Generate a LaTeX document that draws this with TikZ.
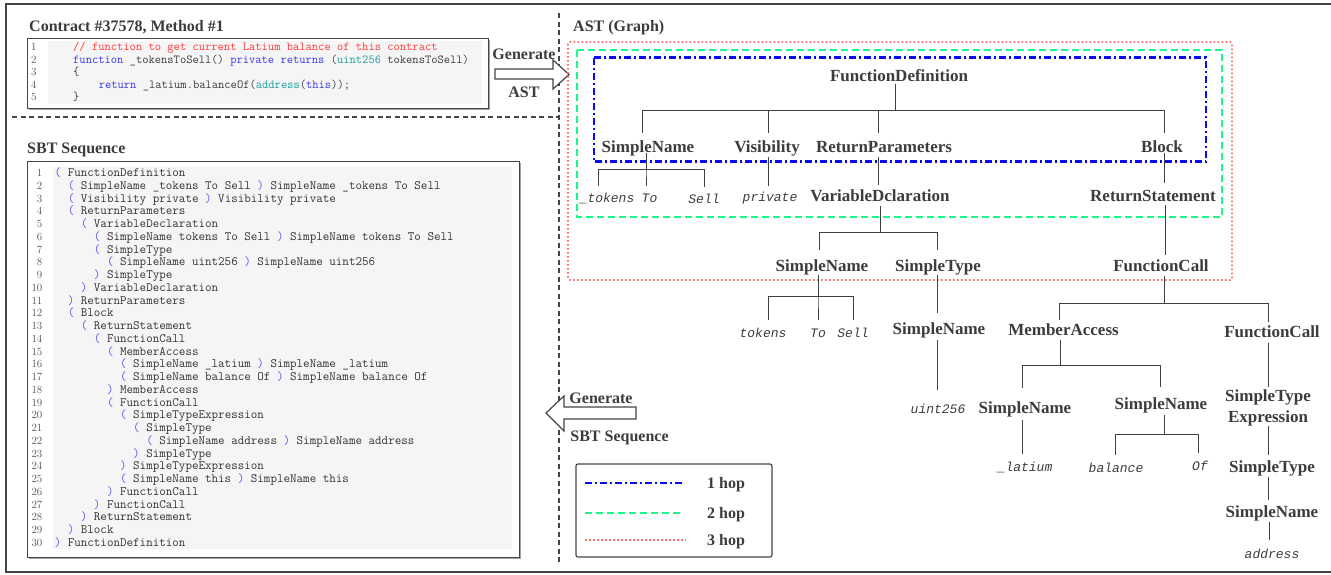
\documentclass[tikz,border=0pt]{standalone}
\usepackage{fontspec}
\newfontfamily\tms{Liberation Serif}
\newfontfamily\cour{Liberation Mono}
\usetikzlibrary{shadows}
\definecolor{txt}{HTML}{3C3C3C}
\definecolor{sbttxt}{HTML}{333333}
\definecolor{edgec}{HTML}{404040}
\definecolor{numc}{HTML}{505050}
\definecolor{cmred}{HTML}{FF3B3B}
\definecolor{kwblue}{HTML}{3A3AE8}
\definecolor{tealc}{HTML}{1E9E9E}
\definecolor{parblue}{HTML}{5050F0}
\definecolor{hopblue}{HTML}{0A0AF0}
\definecolor{hopgreen}{HTML}{1EF58A}
\definecolor{hopred}{HTML}{FF6A6A}
\definecolor{framec}{HTML}{454545}
\definecolor{codebg}{HTML}{F5F5F5}
\newcommand\indt[1]{\hspace*{#1\fontcharwd\font`\x}}
\newcommand\lp{\textcolor{parblue}{(}}
\newcommand\rp{\textcolor{parblue}{)}}
% tree edge with a horizontal bar: parent, parent xshift, shorten<, bar y, child, child xshift, shorten>
\newcommand\tedge[7]{%
  \coordinate (tmpP) at ([xshift=#2pt]#1.south);
  \coordinate (tmpC) at ([xshift=#6pt]#5.north);
  \coordinate (tmpB) at (0,#4);
  \draw[edge,shorten <=#3pt,shorten >=#7pt] (tmpP) -- (tmpP |- tmpB) -| (tmpC);}
% straight vertical edge: parent, parent xshift, shorten<, child, shorten>
\newcommand\vedge[5]{%
  \coordinate (tmpP) at ([xshift=#2pt]#1.south);
  \draw[edge,shorten <=#3pt,shorten >=#5pt] (tmpP) -- (tmpP |- #4.north);}
\begin{document}
\begin{tikzpicture}[x=1pt,y=-1pt,
  lab/.style={font=\tms\bfseries\fontsize{17}{20}\selectfont, text=txt, inner sep=0pt, text height=11.5pt, text depth=0pt},
  leaf/.style={font=\cour\itshape\fontsize{13}{15}\selectfont, text=txt, inner sep=0pt, text height=8pt, text depth=0pt},
  ttl/.style={font=\tms\bfseries\fontsize{16}{19}\selectfont, text=txt, inner sep=0pt, text height=11pt, text depth=0pt},
  edge/.style={draw=edgec, line width=1pt},
  codel/.style={anchor=base west, inner sep=0pt, font=\ttfamily\fontsize{12.2}{14}\selectfont, text=txt},
  sbtl/.style={anchor=base west, inner sep=0pt, font=\ttfamily\fontsize{12.7}{14}\selectfont\addfontfeatures{FakeBold=0.3}, text=sbttxt},
  lnum/.style={inner sep=0pt, font=\fontsize{11}{13}\selectfont, text=numc},
  sep/.style={draw=framec, line width=1.2pt, dash pattern=on 5pt off 3.5pt},
  blockarrow/.style={draw=framec, line width=1.2pt, fill=white, line join=miter},
  hop1/.style={draw=hopblue, line width=2.6pt, dash pattern=on 7pt off 3pt on 2pt off 3pt},
  hop2/.style={draw=hopgreen, line width=2.6pt, dash pattern=on 7pt off 4pt},
  hop3/.style={draw=hopred, line width=1.8pt, dash pattern=on 1.6pt off 2.4pt},
  boxshadow/.style={drop shadow={shadow xshift=1.5pt,shadow yshift=-1.8pt,fill=black!60,opacity=0.6}}
]
\useasboundingbox (0,0) rectangle (1331,574);
% outer frame
\draw[framec, line width=1.3pt] (6,4) rectangle (1345,572);
% separators
\draw[sep] (12,117) -- (559,117);
\draw[sep] (559,13) -- (559,564);

% ---------- contract code ----------
\node[ttl, anchor=west] (ctitle) at (29,26) {Contract \#37578, Method \#1};
\node[draw=framec, line width=1pt, fill=white, boxshadow, inner sep=0pt, minimum width=461pt, minimum height=70pt, anchor=north west] (cbox) at (27,38) {};
\fill[codebg] (48,41) rectangle (482,104);
\foreach \i in {1,...,5} {\node[lnum, anchor=base west] (cn\i) at (31,{50.5+(\i-1)*12.5}) {\i};}
\node[codel] (c1) at (73,50.5) {\textcolor{cmred}{// function to get current Latium balance of this contract}};
\node[codel] (c2) at (73,63) {\textcolor{kwblue}{function} \_tokensToSell() \textcolor{kwblue}{private returns} (\textcolor{tealc}{uint256} tokensToSell)};
\node[codel] (c3) at (73,75.5) {\{};
\node[codel] (c4) at (98.6,88) {\textcolor{kwblue}{return} \_latium.balanceOf(\textcolor{tealc}{address}(\textcolor{kwblue}{this}));};
\node[codel] (c5) at (73,100.5) {\}};

% ---------- SBT sequence ----------
\node[ttl, anchor=west] (stitle) at (27,148) {SBT Sequence};
\node[draw=framec, line width=1pt, fill=white, boxshadow, inner sep=0pt, minimum width=492pt, minimum height=396pt, anchor=north west] (sbox) at (27,161) {};
\fill[codebg] (53,167) rectangle (512,549);
\foreach \k/\t [count=\i] in {
 0/{\lp{} FunctionDefinition},
 2/{\lp{} SimpleName \_tokens To Sell \rp{} SimpleName \_tokens To Sell},
 2/{\lp{} Visibility private \rp{} Visibility private},
 2/{\lp{} ReturnParameters},
 4/{\lp{} VariableDeclaration},
 6/{\lp{} SimpleName tokens To Sell \rp{} SimpleName tokens To Sell},
 6/{\lp{} SimpleType},
 8/{\lp{} SimpleName uint256 \rp{} SimpleName uint256},
 6/{\rp{} SimpleType},
 4/{\rp{} VariableDeclaration},
 2/{\rp{} ReturnParameters},
 2/{\lp{} Block},
 4/{\lp{} ReturnStatement},
 6/{\lp{} FunctionCall},
 8/{\lp{} MemberAccess},
 10/{\lp{} SimpleName \_latium \rp{} SimpleName \_latium},
 10/{\lp{} SimpleName balance Of \rp{} SimpleName balance Of},
 8/{\rp{} MemberAccess},
 8/{\lp{} FunctionCall},
 10/{\lp{} SimpleTypeExpression},
 12/{\lp{} SimpleType},
 14/{\lp{} SimpleName address \rp{} SimpleName address},
 12/{\rp{} SimpleType},
 10/{\rp{} SimpleTypeExpression},
 10/{\lp{} SimpleName this \rp{} SimpleName this},
 8/{\rp{} FunctionCall},
 6/{\rp{} FunctionCall},
 4/{\rp{} ReturnStatement},
 2/{\rp{} Block},
 0/{\rp{} FunctionDefinition}} {
  \node[lnum, anchor=base east] (sn\i) at (42.5,{176.5+(\i-1)*12.75}) {\i};
  \node[sbtl] (s\i) at (54.5,{176.5+(\i-1)*12.75}) {\indt{\k}\t};
}

% ---------- arrows ----------
\draw[blockarrow] (495,69) -- (553,69) -- (553,60) -- (569,74.5) -- (553,89) -- (553,79) -- (495,79) -- cycle;
\node[ttl] (gen1) at (524,54) {Generate};
\node[ttl] (ast1) at (524,92) {AST};
\draw[blockarrow] (546,413) -- (564,396) -- (564,407) -- (636,407) -- (636,419) -- (564,419) -- (564,431) -- cycle;
\node[ttl] (gen2) at (601,398) {Generate};
\node[ttl] (sbt2) at (619.5,436) {SBT Sequence};

% ---------- AST graph ----------
\node[ttl, anchor=west] (atitle) at (573,26) {AST (Graph)};
\draw[hop3, rounded corners=2pt] (568,42) rectangle (1232,280);
\draw[hop2] (577,50) rectangle (1222,217);
\draw[hop1] (594,57.5) rectangle (1206,161.5);

\node[lab] (fd) at (899,76) {FunctionDefinition};
\node[lab] (sn1) at (648,147) {SimpleName};
\node[lab] (vis) at (767,147) {Visibility};
\node[lab] (rp) at (884,147) {ReturnParameters};
\node[lab] (blk) at (1162,147) {Block};
\node[leaf] (tok1) at (607,198) {\_tokens};
\node[leaf] (to1) at (649.5,198) {To};
\node[leaf] (sell1) at (704,199) {Sell};
\node[leaf] (priv) at (770,197) {private};
\node[lab] (vd) at (880,196) {VariableDclaration};
\node[lab] (rs) at (1153,196) {ReturnStatement};
\node[lab] (sn2) at (822,266) {SimpleName};
\node[lab] (st1) at (938,266) {SimpleType};
\node[lab] (fc1) at (1161,266) {FunctionCall};
\node[leaf] (tok2) at (763,333) {tokens};
\node[leaf] (to2) at (818,333) {To};
\node[leaf] (sell2) at (853,333) {Sell};
\node[lab] (sn3) at (939,329) {SimpleName};
\node[lab] (ma) at (1063.5,330) {MemberAccess};
\node[lab] (fc2) at (1272,332) {FunctionCall};
\node[leaf] (u256) at (938,409) {uint256};
\node[lab] (sn4) at (1025,408) {SimpleName};
\node[lab] (sn5) at (1161,404) {SimpleName};
\node[font=\tms\bfseries\fontsize{17}{21}\selectfont, text=txt, inner sep=0pt, align=center] (ste) at (1268,408) {SimpleType\\Expression};
\node[leaf] (lat) at (1025,467) {\_latium};
\node[leaf] (bal) at (1116,468) {balance};
\node[leaf] (of) at (1200,466) {Of};
\node[lab] (st2) at (1272,467) {SimpleType};
\node[lab] (sn6) at (1272,512) {SimpleName};
\node[leaf] (addr) at (1272,554) {address};

% edges
\tedge{fd}{-4}{2}{110}{sn1}{-6}{8}
\tedge{fd}{-4}{2}{110}{vis}{1}{8}
\tedge{fd}{-4}{2}{110}{rp}{-6}{8}
\tedge{fd}{-4}{2}{110}{blk}{2}{8}
\tedge{sn1}{-2}{0}{169}{tok1}{-9}{8}
\tedge{sn1}{-2}{0}{169}{to1}{-3.5}{8}
\tedge{sn1}{-2}{0}{169}{sell1}{0}{8}
\vedge{vis}{1}{4}{priv}{7}
\vedge{rp}{-6}{4}{vd}{5}
\vedge{blk}{2}{0}{rs}{7}
\tedge{vd}{0}{4}{232}{sn2}{-3}{10}
\tedge{vd}{0}{4}{232}{st1}{-1}{10}
\vedge{rs}{12}{3}{fc1}{5}
\tedge{sn2}{-4}{3}{296}{tok2}{5}{9}
\tedge{sn2}{-4}{3}{296}{to2}{0}{9}
\tedge{sn2}{-4}{3}{296}{sell2}{0}{9}
\vedge{st1}{-1}{3}{sn3}{10}
\vedge{sn3}{-2}{5}{u256}{15}
\tedge{fc1}{3}{4}{303}{ma}{-4}{4}
\tedge{fc1}{3}{4}{303}{fc2}{-4}{4}
\tedge{ma}{-3}{4}{365}{sn4}{-3}{14}
\tedge{ma}{-3}{4}{365}{sn5}{-1}{11}
\vedge{sn4}{-3}{6}{lat}{9}
\tedge{sn5}{3}{5}{434}{bal}{-1}{9}
\tedge{sn5}{3}{5}{434}{of}{-2}{9}
\vedge{fc2}{-4}{5}{ste}{3}
\vedge{ste}{0}{0}{st2}{6}
\vedge{st2}{-4}{4}{sn6}{6}
\vedge{sn6}{-3}{4}{addr}{10}

% ---------- legend ----------
\draw[framec, line width=1.2pt, rounded corners=2pt] (576,464) rectangle (772,557);
\coordinate (l1a) at (585,483); \coordinate (l1b) at (683,483);
\coordinate (l2a) at (585,513); \coordinate (l2b) at (681,513);
\coordinate (l3a) at (585,540); \coordinate (l3b) at (686,540);
\draw[hop1] (l1a) -- (l1b);
\draw[hop2] (l2a) -- (l2b);
\draw[hop3] (l3a) -- (l3b);
\node[ttl, anchor=west] (h1) at (707,483) {1 hop};
\node[ttl, anchor=west] (h2) at (707,513) {2 hop};
\node[ttl, anchor=west] (h3) at (707,540) {3 hop};
\end{tikzpicture}
\end{document}
